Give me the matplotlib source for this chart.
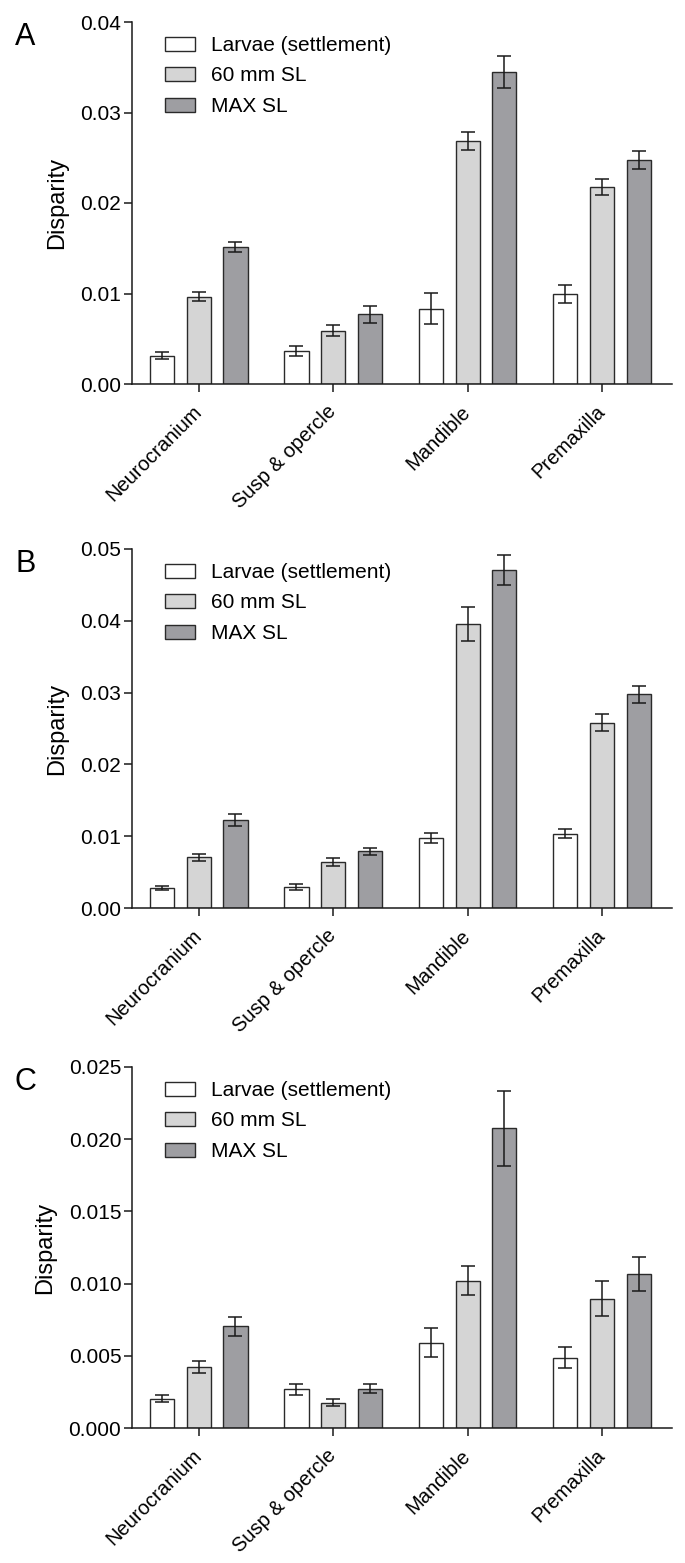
import matplotlib
matplotlib.use("Agg")
import matplotlib.pyplot as plt
import numpy as np

plt.rcParams['font.family'] = ['Liberation Sans', 'DejaVu Sans']

categories = ["Neurocranium", "Susp & opercle", "Mandible", "Premaxilla"]
series_names = ["Larvae (settlement)", "60 mm SL", "MAX SL"]

# Panel A
A_larvae = [0.00312, 0.00364, 0.00834, 0.00996]
A_larvae_err = [0.0004, 0.0006, 0.0017, 0.0010]
A_60mm = [0.00963, 0.00588, 0.02682, 0.02179]
A_60mm_err = [0.0005, 0.0006, 0.0010, 0.0009]
A_max = [0.01514, 0.00768, 0.03446, 0.02472]
A_max_err = [0.0006, 0.0009, 0.0018, 0.0010]

# Panel B
B_larvae = [0.00283, 0.00288, 0.00970, 0.01035]
B_larvae_err = [0.0003, 0.0004, 0.0007, 0.0006]
B_60mm = [0.00706, 0.00641, 0.03955, 0.02581]
B_60mm_err = [0.0005, 0.0005, 0.0024, 0.0012]
B_max = [0.01226, 0.00789, 0.04708, 0.02976]
B_max_err = [0.0008, 0.0005, 0.0021, 0.0012]

# Panel C
C_larvae = [0.00203, 0.00267, 0.00592, 0.00488]
C_larvae_err = [0.00023, 0.00037, 0.0010, 0.0007]
C_60mm = [0.00424, 0.00175, 0.01021, 0.00896]
C_60mm_err = [0.0004, 0.00025, 0.0010, 0.0012]
C_max = [0.00705, 0.00272, 0.02076, 0.01067]
C_max_err = [0.00065, 0.0003, 0.0026, 0.0012]

A_ticks = [0.00, 0.01, 0.02, 0.03, 0.04]
A_ticklabels = ["0.00", "0.01", "0.02", "0.03", "0.04"]
B_ticks = [0.00, 0.01, 0.02, 0.03, 0.04, 0.05]
B_ticklabels = ["0.00", "0.01", "0.02", "0.03", "0.04", "0.05"]
C_ticks = [0.000, 0.005, 0.010, 0.015, 0.020, 0.025]
C_ticklabels = ["0.000", "0.005", "0.010", "0.015", "0.020", "0.025"]

colors = ["#ffffff", "#d5d5d5", "#9e9ea2"]
edge = "#2a2a2a"

W, H = 685, 1563
fig = plt.figure(figsize=(W / 100, H / 100), dpi=100)

panels = [
    ("A", [A_larvae, A_60mm, A_max], [A_larvae_err, A_60mm_err, A_max_err],
     A_ticks, A_ticklabels, (131.5, 672, 22, 384)),
    ("B", [B_larvae, B_60mm, B_max], [B_larvae_err, B_60mm_err, B_max_err],
     B_ticks, B_ticklabels, (131.5, 672, 549, 908)),
    ("C", [C_larvae, C_60mm, C_max], [C_larvae_err, C_60mm_err, C_max_err],
     C_ticks, C_ticklabels, (131.5, 672, 1067, 1428)),
]

fs = 15
x = np.arange(len(categories))
bw = 0.18
offs = [-0.273, 0.0, 0.273]

for letter, vals, errs, ticks, tlabels, (l, r, t, b) in panels:
    ax = fig.add_axes([l / W, 1 - b / H, (r - l) / W, (b - t) / H])
    for i in range(3):
        ax.bar(x + offs[i], vals[i], width=bw, color=colors[i], edgecolor=edge,
               linewidth=1.0, label=series_names[i], zorder=2)
        ax.errorbar(x + offs[i], vals[i], yerr=errs[i], fmt="none", ecolor="#1a1a1a",
                    elinewidth=1.1, capsize=4.7, capthick=1.1, zorder=3)
    ax.set_xlim(-0.5, 3.52)
    ax.set_ylim(ticks[0], ticks[-1])
    ax.set_yticks(ticks)
    ax.set_yticklabels(tlabels, fontsize=fs)
    ax.set_xticks(x)
    ax.set_xticklabels(categories, fontsize=fs - 0.5, rotation=45, ha="right",
                       va="center", rotation_mode="anchor")
    for s in ["top", "right"]:
        ax.spines[s].set_visible(False)
    for s in ["left", "bottom"]:
        ax.spines[s].set_linewidth(1.1)
        ax.spines[s].set_color("#1a1a1a")
    ax.tick_params(axis="both", direction="out", length=5.8, width=1.1, color="#1a1a1a",
                   pad=1.5)
    ax.tick_params(axis="x", pad=12)
    ax.set_ylabel("Disparity", fontsize=17, labelpad=9)
    ax.legend(loc="upper left",
              bbox_to_anchor=(165 / W, 1 - (t + 14) / H),
              bbox_transform=fig.transFigure, frameon=False,
              fontsize=fs, handlelength=1.44, handleheight=0.67, handletextpad=0.75,
              labelspacing=0.55, borderaxespad=0.0, borderpad=0.0)
    fig.text(15 / W, 1 - (t + 15) / H, letter, fontsize=22, ha="left", va="center")

fig.savefig("out.png", dpi=100)
